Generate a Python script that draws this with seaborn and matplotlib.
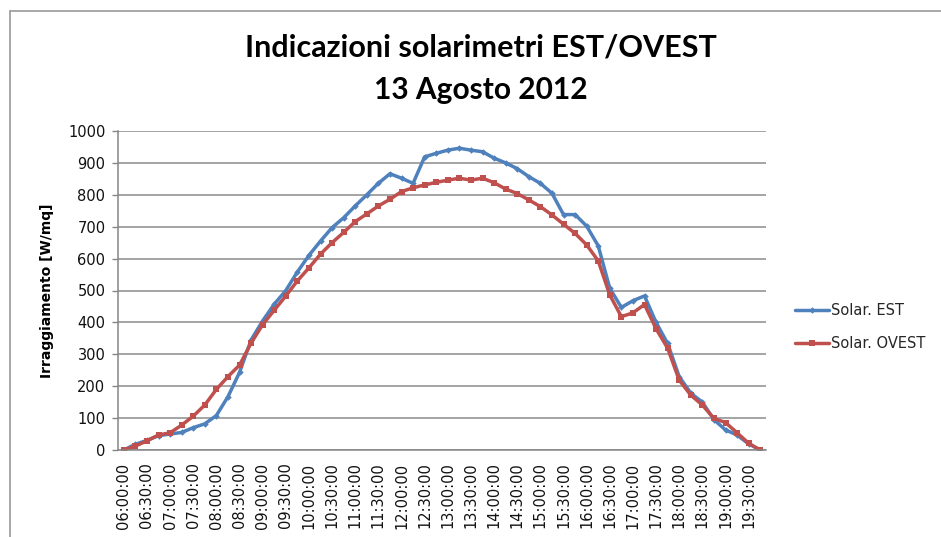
import matplotlib
matplotlib.use("Agg")
import matplotlib.pyplot as plt
from matplotlib.lines import Line2D
import seaborn as sns
import pandas as pd

times = [
    "06:00:00", "06:15:00", "06:30:00", "06:45:00", "07:00:00", "07:15:00", "07:30:00", "07:45:00",
    "08:00:00", "08:15:00", "08:30:00", "08:45:00", "09:00:00", "09:15:00", "09:30:00", "09:45:00",
    "10:00:00", "10:15:00", "10:30:00", "10:45:00", "11:00:00", "11:15:00", "11:30:00", "11:45:00",
    "12:00:00", "12:15:00", "12:30:00", "12:45:00", "13:00:00", "13:15:00", "13:30:00", "13:45:00",
    "14:00:00", "14:15:00", "14:30:00", "14:45:00", "15:00:00", "15:15:00", "15:30:00", "15:45:00",
    "16:00:00", "16:15:00", "16:30:00", "16:45:00", "17:00:00", "17:15:00", "17:30:00", "17:45:00",
    "18:00:00", "18:15:00", "18:30:00", "18:45:00", "19:00:00", "19:15:00", "19:30:00", "19:45:00",
]

solar_est = [
    0, 18, 30, 45, 50, 55, 70, 82,
    108, 167, 243, 345, 405, 457, 500, 558,
    610, 655, 697, 728, 765, 800, 836, 866,
    852, 836, 919, 930, 940, 946, 940, 935,
    915, 900, 882, 857, 836, 805, 738, 738,
    702, 640, 507, 447, 468, 483, 400, 334,
    230, 178, 150, 95, 63, 47, 19, 0,
]

solar_ovest = [
    0, 12, 29, 47, 54, 78, 106, 141,
    190, 230, 266, 335, 393, 438, 483, 530,
    571, 614, 650, 682, 716, 740, 765, 786,
    810, 822, 831, 839, 846, 852, 846, 852,
    838, 818, 804, 784, 763, 737, 708, 679,
    643, 593, 486, 418, 430, 456, 380, 319,
    219, 172, 141, 99, 86, 54, 21, 0,
]

series_names = ["Solar. EST", "Solar. OVEST"]
y_ticks = [0, 100, 200, 300, 400, 500, 600, 700, 800, 900, 1000]

title_line1 = "Indicazioni solarimetri EST/OVEST"
title_line2 = "13 Agosto 2012"
y_label = "Irraggiamento [W/mq]"

df = pd.DataFrame({
    "time": times * 2,
    "value": solar_est + solar_ovest,
    "series": [series_names[0]] * len(times) + [series_names[1]] * len(times),
})

sns.set_theme(style="white")
plt.rcParams["font.family"] = ["DejaVu Sans"]

W, H = 941, 537
fig = plt.figure(figsize=(W / 100, H / 100), dpi=100)
ax = fig.add_axes([118 / W, 1 - 450 / H, 648 / W, 319 / H])

palette = {series_names[0]: "#4F81BD", series_names[1]: "#C0504D"}
markers = {series_names[0]: "D", series_names[1]: "s"}

sns.lineplot(data=df, x="time", y="value", hue="series", style="series",
             palette=palette, markers=markers, dashes=False, sort=False,
             linewidth=2.5, markersize=4.4, markeredgewidth=0, ax=ax, legend=False)
for ln in ax.get_lines():
    if ln.get_color().lower() == "#4f81bd":
        ln.set_markersize(3.3)

ax.set_xlim(-0.5, len(times) - 0.5)
ax.set_ylim(0, 1000)
ax.set_yticks(y_ticks)
ax.set_yticklabels([str(v) for v in y_ticks], fontsize=10.5, color="#111111")
ax.set_xticks(list(range(0, len(times), 2)))
ax.set_xticklabels(times[::2], rotation=90, fontsize=10.5, color="#111111")
ax.tick_params(axis="x", length=0, pad=9)
ax.tick_params(axis="y", length=4, width=1, color="#868686", direction="out", pad=5, left=True)

ax.grid(axis="y", color="#8c8c8c", linewidth=1.1)
ax.grid(axis="x", visible=False)
ax.set_axisbelow(True)
for s in ["top", "right"]:
    ax.spines[s].set_visible(False)
for s in ["left", "bottom"]:
    ax.spines[s].set_color("#868686")
    ax.spines[s].set_linewidth(1.1)

ax.set_xlabel("")
ax.set_ylabel(y_label, fontsize=10, fontweight="bold", color="black")
ax.yaxis.set_label_coords((54 - 118) / 648, 0.5)

fig.text(481 / W, 1 - 47 / H, title_line1, ha="center", va="center", color="black",
         fontsize=22, fontweight="bold", family=["Lato", "DejaVu Sans"])
fig.text(481 / W, 1 - 90 / H, title_line2, ha="center", va="center", color="black",
         fontsize=21.5, fontweight="bold", family=["Lato", "DejaVu Sans"])

handles = [
    Line2D([], [], color="#4F81BD", lw=2.5, marker="D", markersize=3.3, markeredgewidth=0),
    Line2D([], [], color="#C0504D", lw=2.5, marker="s", markersize=4.4, markeredgewidth=0),
]
fig.legend(handles, series_names, loc="center left", bbox_to_anchor=(795 / W, 1 - 327 / H),
           frameon=False, fontsize=10.5, handlelength=2.3, handletextpad=0.15,
           labelspacing=1.25, borderaxespad=0, borderpad=0)

fig.add_artist(Line2D([10 / W, 1], [1 - 11 / H, 1 - 11 / H], transform=fig.transFigure,
                      color="#9a9a9a", lw=1.2))
fig.add_artist(Line2D([10 / W, 10 / W], [0, 1 - 11 / H], transform=fig.transFigure,
                      color="#9a9a9a", lw=1.2))

fig.savefig("out.png", dpi=100)
